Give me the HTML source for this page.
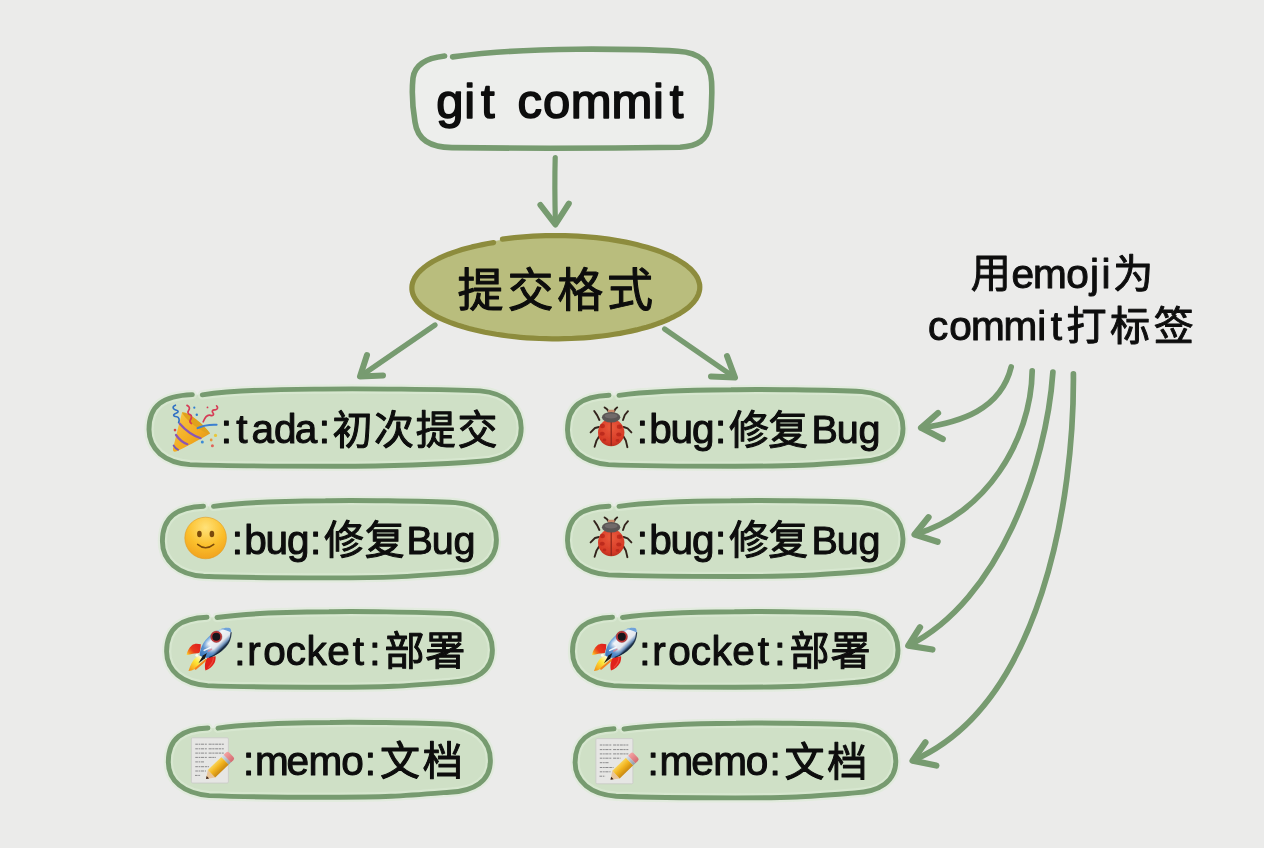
<!DOCTYPE html>
<html lang="zh-CN"><head><meta charset="utf-8"><title>git commit emoji</title>
<style>html,body{margin:0;padding:0;background:#ebebea;overflow:hidden}svg{display:block}text{white-space:pre}</style></head>
<body>
<svg width="1264" height="848" viewBox="0 0 1264 848" font-family="'Liberation Sans','Noto Sans CJK SC',sans-serif" fill="#0a0a0a">
<rect width="1264" height="848" fill="#ebebea"/>
<defs><filter id="soft" x="0" y="0" width="1264" height="848" filterUnits="userSpaceOnUse"><feGaussianBlur stdDeviation="0.38"/></filter></defs>
<g filter="url(#soft)">
<path d="M452.6,56.9 C490,52 540,49.4 577,49.2 C615,49 650,49.6 678,51.2 C700,52.6 710.5,62 711.6,82 C712.2,96 711.6,110 709.8,124 C707.6,140 698,146.4 680,147.2 C600,148.4 520,148.4 452,147.6 C430,147 417.5,140 415,122 C412.6,108 411.6,92 413,78 C414.8,64 428,57.8 444.6,56.0" fill="#edeeec" stroke="#779b70" stroke-width="5.6" stroke-linecap="round" stroke-linejoin="round"/>
<text x="436.20 464.32 481.05 499.31 517.58 542.92 570.73 611.62 652.92 669.70" y="117.6" font-size="49" stroke="#0a0a0a" stroke-width="1.6" stroke-linejoin="round">git commit</text>
<path d="M555.2,157.5 C554.6,180 554.8,200 555.4,223" fill="none" stroke="#779b70" stroke-width="5.2" stroke-linecap="round" stroke-linejoin="round"/>
<path d="M540.4,205.0 L555.4,224.5 L568.8,203.6" fill="none" stroke="#779b70" stroke-width="6.0" stroke-linecap="round" stroke-linejoin="round"/>
<ellipse cx="555.5" cy="287.2" rx="143.8" ry="51.1" fill="#b9bd7d"/>
<path d="M502.4,239.2 L508.4,238.4 L514.5,237.7 L520.6,237.1 L526.9,236.6 L533.1,236.2 L539.5,235.9 L545.8,235.7 L552.2,235.6 L558.6,235.6 L565.0,235.7 L571.4,235.9 L577.7,236.2 L584.0,236.6 L590.2,237.1 L596.4,237.7 L602.5,238.4 L608.5,239.2 L614.3,240.1 L620.1,241.1 L625.8,242.1 L631.3,243.3 L636.6,244.5 L641.8,245.9 L646.9,247.3 L651.7,248.8 L656.4,250.3 L660.9,251.9 L665.1,253.6 L669.2,255.4 L673.0,257.2 L676.6,259.1 L679.9,261.1 L683.1,263.1 L685.9,265.1 L688.5,267.2 L690.9,269.3 L692.9,271.5 L694.8,273.7 L696.3,275.9 L697.6,278.1 L698.5,280.4 L699.2,282.7 L699.7,284.9 L699.8,287.2 L699.7,289.5 L699.2,291.8 L698.5,294.1 L697.5,296.3 L696.3,298.6 L694.7,300.8 L692.9,303.0 L690.8,305.1 L688.5,307.3 L685.8,309.3 L683.0,311.4 L679.9,313.4 L676.5,315.3 L672.9,317.2 L669.1,319.0 L665.0,320.8 L660.7,322.5 L656.3,324.1 L651.6,325.7 L646.7,327.2 L641.7,328.6 L636.5,329.9 L631.1,331.1 L625.6,332.3 L620.0,333.4 L614.2,334.3 L608.3,335.2 L602.3,336.0 L596.2,336.7 L590.0,337.3 L583.8,337.8 L577.5,338.2 L571.2,338.5 L564.8,338.7 L558.4,338.8 L552.0,338.8 L545.7,338.7 L539.3,338.5 L533.0,338.2 L526.7,337.8 L520.5,337.3 L514.3,336.7 L508.2,336.0 L502.2,335.2 L496.3,334.3 L490.6,333.3 L484.9,332.2 L479.4,331.0 L474.1,329.8 L468.9,328.5 L463.9,327.1 L459.0,325.6 L454.4,324.0 L449.9,322.4 L445.6,320.7 L441.6,318.9 L437.8,317.1 L434.2,315.2 L430.9,313.2 L427.8,311.2 L425.0,309.2 L422.4,307.1 L420.1,304.9 L418.1,302.8 L416.4,300.6 L414.9,298.4 L413.7,296.1 L412.8,293.9 L412.2,291.6 L411.9,289.3 L411.9,287.0 L412.1,284.8 L412.7,282.5 L413.5,280.3 L414.6,278.0 L416.0,275.8 L417.7,273.6 L419.6,271.5 L421.8,269.4 L424.3,267.3 L427.0,265.2 L430.0,263.3 L433.3,261.3 L436.7,259.5 L440.4,257.6 L444.3,255.9 L448.5,254.2 L452.8,252.6 L457.3,251.1 L462.1,249.6 L466.9,248.2 L472.0,246.9 L477.2,245.7 L482.5,244.6 L488.0,243.5 L493.6,242.6" fill="none" stroke="#8d8c3c" stroke-width="5.2" stroke-linecap="round" stroke-linejoin="round"/>
<text x="457.60 507.43 557.27 607.10" y="305.8" font-size="46" stroke="#0a0a0a" stroke-width="1.0" stroke-linejoin="round">提交格式</text>
<path d="M435,325 L361.5,375.5" fill="none" stroke="#779b70" stroke-width="5.2" stroke-linecap="round" stroke-linejoin="round"/>
<path d="M367,355 L360,376.5 L383,375.5" fill="none" stroke="#779b70" stroke-width="6.0" stroke-linecap="round" stroke-linejoin="round"/>
<path d="M664.6,329 L733.5,376.6" fill="none" stroke="#779b70" stroke-width="5.2" stroke-linecap="round" stroke-linejoin="round"/>
<path d="M727,356 L735,377.6 L711,376.5" fill="none" stroke="#779b70" stroke-width="6.0" stroke-linecap="round" stroke-linejoin="round"/>
<path d="M202.3,394.8 C224.3,391.6 262.3,389.4 314.3,389.1 C355.1,388.4 450.2,389.2 480.2,390.9 C506.5,393.1 521.2,407.8 521.2,428.1 C521.2,449.4 504.9,460.2 480.2,461.2 C430.2,465.2 395.1,466.2 335.1,466.2 C275.1,466.2 230.0,466.2 190.0,464.6 C164.6,462.6 149.0,449.4 149.0,429.6 C149.0,405.5 163.0,395.6 192.3,394.6 Z" fill="#cfe0c6"/>
<path d="M202.3,394.8 C224.3,391.6 262.3,389.4 314.3,389.1 C355.1,388.4 450.2,389.2 480.2,390.9 C506.5,393.1 521.2,407.8 521.2,428.1 C521.2,449.4 504.9,460.2 480.2,461.2 C430.2,465.2 395.1,466.2 335.1,466.2 C275.1,466.2 230.0,466.2 190.0,464.6 C164.6,462.6 149.0,449.4 149.0,429.6 C149.0,405.5 163.0,395.6 192.3,394.6" fill="none" stroke="#dcebd6" stroke-opacity="0.6" stroke-width="9.4" stroke-linecap="round" stroke-linejoin="round"/>
<path d="M202.3,394.8 C224.3,391.6 262.3,389.4 314.3,389.1 C355.1,388.4 450.2,389.2 480.2,390.9 C506.5,393.1 521.2,407.8 521.2,428.1 C521.2,449.4 504.9,460.2 480.2,461.2 C430.2,465.2 395.1,466.2 335.1,466.2 C275.1,466.2 230.0,466.2 190.0,464.6 C164.6,462.6 149.0,449.4 149.0,429.6 C149.0,405.5 163.0,395.6 192.3,394.6" fill="none" stroke="#779b70" stroke-width="4.9" stroke-linecap="round" stroke-linejoin="round"/>
<path d="M213.5,506.4 C235.5,503.2 273.5,501.1 325.5,500.8 C349.4,500.1 425.4,500.9 455.4,502.6 C481.6,504.8 496.4,519.5 496.4,539.8 C496.4,561.2 480.0,571.9 455.4,572.9 C405.4,576.9 389.4,577.9 329.4,577.9 C269.4,577.9 243.4,577.9 203.4,576.3 C178.0,574.3 162.4,561.2 162.4,541.3 C162.4,517.2 176.4,507.2 203.5,506.2 Z" fill="#cfe0c6"/>
<path d="M213.5,506.4 C235.5,503.2 273.5,501.1 325.5,500.8 C349.4,500.1 425.4,500.9 455.4,502.6 C481.6,504.8 496.4,519.5 496.4,539.8 C496.4,561.2 480.0,571.9 455.4,572.9 C405.4,576.9 389.4,577.9 329.4,577.9 C269.4,577.9 243.4,577.9 203.4,576.3 C178.0,574.3 162.4,561.2 162.4,541.3 C162.4,517.2 176.4,507.2 203.5,506.2" fill="none" stroke="#dcebd6" stroke-opacity="0.6" stroke-width="9.4" stroke-linecap="round" stroke-linejoin="round"/>
<path d="M213.5,506.4 C235.5,503.2 273.5,501.1 325.5,500.8 C349.4,500.1 425.4,500.9 455.4,502.6 C481.6,504.8 496.4,519.5 496.4,539.8 C496.4,561.2 480.0,571.9 455.4,572.9 C405.4,576.9 389.4,577.9 329.4,577.9 C269.4,577.9 243.4,577.9 203.4,576.3 C178.0,574.3 162.4,561.2 162.4,541.3 C162.4,517.2 176.4,507.2 203.5,506.2" fill="none" stroke="#779b70" stroke-width="4.9" stroke-linecap="round" stroke-linejoin="round"/>
<path d="M217.0,617.5 C239.0,614.2 277.0,612.1 329.0,611.8 C349.5,611.1 421.4,612.0 451.4,613.5 C477.6,615.8 492.4,630.1 492.4,650.0 C492.4,670.9 476.0,681.2 451.4,682.2 C401.4,686.2 389.5,687.2 329.5,687.2 C269.5,687.2 247.6,687.2 207.6,685.6 C182.2,683.6 166.6,670.9 166.6,651.5 C166.6,627.8 180.6,618.2 207.0,617.2 Z" fill="#cfe0c6"/>
<path d="M217.0,617.5 C239.0,614.2 277.0,612.1 329.0,611.8 C349.5,611.1 421.4,612.0 451.4,613.5 C477.6,615.8 492.4,630.1 492.4,650.0 C492.4,670.9 476.0,681.2 451.4,682.2 C401.4,686.2 389.5,687.2 329.5,687.2 C269.5,687.2 247.6,687.2 207.6,685.6 C182.2,683.6 166.6,670.9 166.6,651.5 C166.6,627.8 180.6,618.2 207.0,617.2" fill="none" stroke="#dcebd6" stroke-opacity="0.6" stroke-width="9.4" stroke-linecap="round" stroke-linejoin="round"/>
<path d="M217.0,617.5 C239.0,614.2 277.0,612.1 329.0,611.8 C349.5,611.1 421.4,612.0 451.4,613.5 C477.6,615.8 492.4,630.1 492.4,650.0 C492.4,670.9 476.0,681.2 451.4,682.2 C401.4,686.2 389.5,687.2 329.5,687.2 C269.5,687.2 247.6,687.2 207.6,685.6 C182.2,683.6 166.6,670.9 166.6,651.5 C166.6,627.8 180.6,618.2 207.0,617.2" fill="none" stroke="#779b70" stroke-width="4.9" stroke-linecap="round" stroke-linejoin="round"/>
<path d="M218.0,728.2 C240.0,725.0 278.0,722.9 330.0,722.5 C349.4,721.9 419.4,722.7 449.4,724.2 C475.6,726.5 490.4,740.6 490.4,760.4 C490.4,781.0 474.0,791.2 449.4,792.2 C399.4,796.2 389.4,797.2 329.4,797.2 C269.4,797.2 249.3,797.2 209.3,795.6 C183.9,793.6 168.3,781.0 168.3,761.9 C168.3,738.4 182.3,729.0 208.0,728.0 Z" fill="#cfe0c6"/>
<path d="M218.0,728.2 C240.0,725.0 278.0,722.9 330.0,722.5 C349.4,721.9 419.4,722.7 449.4,724.2 C475.6,726.5 490.4,740.6 490.4,760.4 C490.4,781.0 474.0,791.2 449.4,792.2 C399.4,796.2 389.4,797.2 329.4,797.2 C269.4,797.2 249.3,797.2 209.3,795.6 C183.9,793.6 168.3,781.0 168.3,761.9 C168.3,738.4 182.3,729.0 208.0,728.0" fill="none" stroke="#dcebd6" stroke-opacity="0.6" stroke-width="9.4" stroke-linecap="round" stroke-linejoin="round"/>
<path d="M218.0,728.2 C240.0,725.0 278.0,722.9 330.0,722.5 C349.4,721.9 419.4,722.7 449.4,724.2 C475.6,726.5 490.4,740.6 490.4,760.4 C490.4,781.0 474.0,791.2 449.4,792.2 C399.4,796.2 389.4,797.2 329.4,797.2 C269.4,797.2 249.3,797.2 209.3,795.6 C183.9,793.6 168.3,781.0 168.3,761.9 C168.3,738.4 182.3,729.0 208.0,728.0" fill="none" stroke="#779b70" stroke-width="4.9" stroke-linecap="round" stroke-linejoin="round"/>
<path d="M619.0,395.4 C641.0,392.2 679.0,390.1 731.0,389.8 C755.2,389.1 832.0,389.9 862.0,391.6 C888.3,393.8 903.0,408.4 903.0,428.5 C903.0,449.6 886.6,460.2 862.0,461.2 C812.0,465.2 795.2,466.2 735.2,466.2 C675.2,466.2 648.5,466.2 608.5,464.6 C583.0,462.6 567.5,449.6 567.5,430.0 C567.5,406.0 581.4,396.2 609.0,395.2 Z" fill="#cfe0c6"/>
<path d="M619.0,395.4 C641.0,392.2 679.0,390.1 731.0,389.8 C755.2,389.1 832.0,389.9 862.0,391.6 C888.3,393.8 903.0,408.4 903.0,428.5 C903.0,449.6 886.6,460.2 862.0,461.2 C812.0,465.2 795.2,466.2 735.2,466.2 C675.2,466.2 648.5,466.2 608.5,464.6 C583.0,462.6 567.5,449.6 567.5,430.0 C567.5,406.0 581.4,396.2 609.0,395.2" fill="none" stroke="#dcebd6" stroke-opacity="0.6" stroke-width="9.4" stroke-linecap="round" stroke-linejoin="round"/>
<path d="M619.0,395.4 C641.0,392.2 679.0,390.1 731.0,389.8 C755.2,389.1 832.0,389.9 862.0,391.6 C888.3,393.8 903.0,408.4 903.0,428.5 C903.0,449.6 886.6,460.2 862.0,461.2 C812.0,465.2 795.2,466.2 735.2,466.2 C675.2,466.2 648.5,466.2 608.5,464.6 C583.0,462.6 567.5,449.6 567.5,430.0 C567.5,406.0 581.4,396.2 609.0,395.2" fill="none" stroke="#779b70" stroke-width="4.9" stroke-linecap="round" stroke-linejoin="round"/>
<path d="M619.0,506.4 C641.0,503.2 679.0,501.1 731.0,500.8 C755.2,500.1 832.0,500.9 862.0,502.6 C888.3,504.8 903.0,519.2 903.0,539.1 C903.0,560.1 886.6,570.5 862.0,571.5 C812.0,575.5 795.2,576.5 735.2,576.5 C675.2,576.5 648.5,576.5 608.5,574.9 C583.0,572.9 567.5,560.1 567.5,540.6 C567.5,516.9 581.4,507.2 609.0,506.2 Z" fill="#cfe0c6"/>
<path d="M619.0,506.4 C641.0,503.2 679.0,501.1 731.0,500.8 C755.2,500.1 832.0,500.9 862.0,502.6 C888.3,504.8 903.0,519.2 903.0,539.1 C903.0,560.1 886.6,570.5 862.0,571.5 C812.0,575.5 795.2,576.5 735.2,576.5 C675.2,576.5 648.5,576.5 608.5,574.9 C583.0,572.9 567.5,560.1 567.5,540.6 C567.5,516.9 581.4,507.2 609.0,506.2" fill="none" stroke="#dcebd6" stroke-opacity="0.6" stroke-width="9.4" stroke-linecap="round" stroke-linejoin="round"/>
<path d="M619.0,506.4 C641.0,503.2 679.0,501.1 731.0,500.8 C755.2,500.1 832.0,500.9 862.0,502.6 C888.3,504.8 903.0,519.2 903.0,539.1 C903.0,560.1 886.6,570.5 862.0,571.5 C812.0,575.5 795.2,576.5 735.2,576.5 C675.2,576.5 648.5,576.5 608.5,574.9 C583.0,572.9 567.5,560.1 567.5,540.6 C567.5,516.9 581.4,507.2 609.0,506.2" fill="none" stroke="#779b70" stroke-width="4.9" stroke-linecap="round" stroke-linejoin="round"/>
<path d="M622.5,617.5 C644.5,614.2 682.5,612.1 734.5,611.8 C755.2,611.1 827.0,612.0 857.0,613.5 C883.3,615.8 898.0,630.1 898.0,650.0 C898.0,670.9 881.6,681.2 857.0,682.2 C807.0,686.2 795.2,687.2 735.2,687.2 C675.2,687.2 653.5,687.2 613.5,685.6 C588.0,683.6 572.5,670.9 572.5,651.5 C572.5,627.8 586.4,618.2 612.5,617.2 Z" fill="#cfe0c6"/>
<path d="M622.5,617.5 C644.5,614.2 682.5,612.1 734.5,611.8 C755.2,611.1 827.0,612.0 857.0,613.5 C883.3,615.8 898.0,630.1 898.0,650.0 C898.0,670.9 881.6,681.2 857.0,682.2 C807.0,686.2 795.2,687.2 735.2,687.2 C675.2,687.2 653.5,687.2 613.5,685.6 C588.0,683.6 572.5,670.9 572.5,651.5 C572.5,627.8 586.4,618.2 612.5,617.2" fill="none" stroke="#dcebd6" stroke-opacity="0.6" stroke-width="9.4" stroke-linecap="round" stroke-linejoin="round"/>
<path d="M622.5,617.5 C644.5,614.2 682.5,612.1 734.5,611.8 C755.2,611.1 827.0,612.0 857.0,613.5 C883.3,615.8 898.0,630.1 898.0,650.0 C898.0,670.9 881.6,681.2 857.0,682.2 C807.0,686.2 795.2,687.2 735.2,687.2 C675.2,687.2 653.5,687.2 613.5,685.6 C588.0,683.6 572.5,670.9 572.5,651.5 C572.5,627.8 586.4,618.2 612.5,617.2" fill="none" stroke="#779b70" stroke-width="4.9" stroke-linecap="round" stroke-linejoin="round"/>
<path d="M624.0,729.0 C646.0,725.8 684.0,723.6 736.0,723.2 C755.4,722.6 824.8,723.5 854.8,725.0 C881.0,727.2 895.8,741.4 895.8,761.1 C895.8,781.7 879.4,791.9 854.8,792.9 C804.8,796.9 795.4,797.9 735.4,797.9 C675.4,797.9 656.1,797.9 616.1,796.3 C590.6,794.3 575.1,781.7 575.1,762.6 C575.1,739.1 589.0,729.8 614.0,728.8 Z" fill="#cfe0c6"/>
<path d="M624.0,729.0 C646.0,725.8 684.0,723.6 736.0,723.2 C755.4,722.6 824.8,723.5 854.8,725.0 C881.0,727.2 895.8,741.4 895.8,761.1 C895.8,781.7 879.4,791.9 854.8,792.9 C804.8,796.9 795.4,797.9 735.4,797.9 C675.4,797.9 656.1,797.9 616.1,796.3 C590.6,794.3 575.1,781.7 575.1,762.6 C575.1,739.1 589.0,729.8 614.0,728.8" fill="none" stroke="#dcebd6" stroke-opacity="0.6" stroke-width="9.4" stroke-linecap="round" stroke-linejoin="round"/>
<path d="M624.0,729.0 C646.0,725.8 684.0,723.6 736.0,723.2 C755.4,722.6 824.8,723.5 854.8,725.0 C881.0,727.2 895.8,741.4 895.8,761.1 C895.8,781.7 879.4,791.9 854.8,792.9 C804.8,796.9 795.4,797.9 735.4,797.9 C675.4,797.9 656.1,797.9 616.1,796.3 C590.6,794.3 575.1,781.7 575.1,762.6 C575.1,739.1 589.0,729.8 614.0,728.8" fill="none" stroke="#779b70" stroke-width="4.9" stroke-linecap="round" stroke-linejoin="round"/>
<g transform="translate(0,0)">
<defs><linearGradient id="tg" x1="0" y1="0" x2="1" y2="1"><stop offset="0" stop-color="#f7c948"/><stop offset="0.6" stop-color="#f2a91e"/><stop offset="1" stop-color="#d98a12"/></linearGradient></defs>
<path d="M173.0,448.5 C176,436 179,424 182.0,412.5 C190,414 203,424 210.0,433.5 C199,440 186,447 176.0,451.5 C173.5,452.2 172.6,450.5 173.0,448.5Z" fill="url(#tg)"/>
<path d="M182.0,412.5 C186,410.5 204,424 210.0,433.5 C205,434.5 186,421 182.0,412.5Z" fill="#e0a21c"/>
<path d="M179.6,423.5 C186,431 194,436 200.6,438.2" fill="none" stroke="#8a56b5" stroke-width="2.2" stroke-linecap="round"/>
<path d="M176.0,435.0 C179.5,440 184,443 187.4,444.2" fill="none" stroke="#8a56b5" stroke-width="2.2" stroke-linecap="round"/>
<path d="M173.6,445.5 C175,448 176.5,449.2 178.2,449.8" fill="none" stroke="#7a58b0" stroke-width="1.8" stroke-linecap="round"/>
<path d="M175.4,405.2 C172,406.5 172.5,409.5 176.5,410.2 C178.5,410.6 179,412 176,413.2 C172.5,414.5 173,416.5 176.8,416.8 C179,417 179.8,420 178.6,422.5" fill="none" stroke="#2f6fc4" stroke-width="1.6" stroke-linecap="round"/>
<path d="M187.0,405.4 C189.5,406.5 190.2,408.5 188.6,410.5 C187.2,412.3 188,414 190,414.6 C192.5,415.4 191.5,418.5 190.2,420.2 C189.6,421.5 190.4,423 191.4,423.6" fill="none" stroke="#d63a55" stroke-width="1.7" stroke-linecap="round"/>
<path d="M216.6,405.8 C218.5,407.5 217.5,410 214.8,409.8 C212.5,409.6 211.5,411.5 213,413 C214.5,414.5 212.5,416.2 210.6,415.4 C208.5,414.6 205.5,416 203.2,421.8" fill="none" stroke="#d63a55" stroke-width="1.7" stroke-linecap="round"/>
<path d="M197.6,428.2 C203,425.5 210,424.5 216.6,424.8" fill="none" stroke="#3b7fd0" stroke-width="2.0" stroke-linecap="round"/>
<circle cx="175" cy="430.1" r="1.3" fill="#d9443f"/>
<circle cx="194.3" cy="407.7" r="1.1" fill="#2f7fd1"/>
<circle cx="196.8" cy="414.7" r="1.2" fill="#2f7fd1"/>
<circle cx="202.3" cy="441.9" r="1.5" fill="#3b8ad6"/>
<circle cx="215.5" cy="435.4" r="1.6" fill="#e8c73a"/>
<circle cx="211.2" cy="440" r="1.4" fill="#e8963a"/>
<circle cx="212.4" cy="445.7" r="1.5" fill="#e0645a"/>
<circle cx="207.5" cy="407.4" r="0.9" fill="#d63a55"/>
</g>
<defs><radialGradient id="sg" cx="0.5" cy="0.25" r="0.85"><stop offset="0" stop-color="#ffe27a"/><stop offset="0.5" stop-color="#fbc02d"/><stop offset="1" stop-color="#ee9a1a"/></radialGradient></defs>
<circle cx="205.6" cy="538.0" r="20.8" fill="url(#sg)" stroke="#e39a1e" stroke-width="0.6"/>
<ellipse cx="199.4" cy="534.0" rx="2.3" ry="3.2" fill="#7a4a08"/>
<ellipse cx="211.9" cy="534.0" rx="2.3" ry="3.2" fill="#7a4a08"/>
<path d="M197.6,544.4 Q205.6,551.2 213.79999999999998,544.4" fill="none" stroke="#7a4a08" stroke-width="1.5" stroke-linecap="round"/>
<g transform="translate(0,0)">
<defs><radialGradient id="bga" cx="0.5" cy="0.3" r="0.8"><stop offset="0" stop-color="#ea5a3c"/><stop offset="0.7" stop-color="#d63a26"/><stop offset="1" stop-color="#a82a1c"/></radialGradient></defs>
<path d="M599.4,420 L597.2,415.4 L594.2,411.0" fill="none" stroke="#33241c" stroke-width="1.9" stroke-linecap="round" stroke-linejoin="round"/>
<path d="M623.0,420 L624.8,415.0 L628.0,411.2" fill="none" stroke="#33241c" stroke-width="1.9" stroke-linecap="round" stroke-linejoin="round"/>
<path d="M599,427 L595,428 L590.6,432.4" fill="none" stroke="#33241c" stroke-width="1.9" stroke-linecap="round" stroke-linejoin="round"/>
<path d="M623.6,427 L627.6,428.4 L631.4,432.4" fill="none" stroke="#33241c" stroke-width="1.9" stroke-linecap="round" stroke-linejoin="round"/>
<path d="M599.4,436 L596.6,440.4 L594.6,446.8" fill="none" stroke="#33241c" stroke-width="1.9" stroke-linecap="round" stroke-linejoin="round"/>
<path d="M623.2,436 L625.8,440.4 L627.4,447.2" fill="none" stroke="#33241c" stroke-width="1.9" stroke-linecap="round" stroke-linejoin="round"/>
<path d="M608.6,411.4 L606.8,409 L604.6,407.4" fill="none" stroke="#33241c" stroke-width="1.9" stroke-linecap="round" stroke-linejoin="round"/>
<path d="M614.0,411.4 L615.4,409 L617.2,407.4" fill="none" stroke="#33241c" stroke-width="1.9" stroke-linecap="round" stroke-linejoin="round"/>
<rect x="607.8" y="409.8" width="6.8" height="3" rx="1.2" fill="#c98a6a"/>
<ellipse cx="611.2" cy="432.6" rx="13.2" ry="13.6" fill="url(#bga)"/>
<ellipse cx="602.4" cy="426.0" rx="2.6" ry="2.2" fill="#b8281c" opacity="0.85"/>
<ellipse cx="602.2" cy="433.8" rx="2.6" ry="2.0" fill="#b8281c" opacity="0.85"/>
<ellipse cx="619.6" cy="426.8" rx="2.8" ry="2.2" fill="#b8281c" opacity="0.85"/>
<ellipse cx="618.8" cy="434.6" rx="2.6" ry="2.0" fill="#b8281c" opacity="0.85"/>
<ellipse cx="604.5" cy="440" rx="1.8" ry="1.4" fill="#b8281c" opacity="0.85"/>
<ellipse cx="617.5" cy="440.5" rx="1.8" ry="1.4" fill="#b8281c" opacity="0.85"/>
<path d="M611.2,420.8 L611.2,445.8" stroke="#8a2418" stroke-width="1.2"/>
<ellipse cx="611.1" cy="417.2" rx="9.2" ry="5.2" fill="#5a5654"/>
<ellipse cx="611.1" cy="416.0" rx="6.5" ry="2.6" fill="#787472" opacity="0.7"/>
</g>
<g transform="translate(0,110)">
<defs><radialGradient id="bgb" cx="0.5" cy="0.3" r="0.8"><stop offset="0" stop-color="#ea5a3c"/><stop offset="0.7" stop-color="#d63a26"/><stop offset="1" stop-color="#a82a1c"/></radialGradient></defs>
<path d="M599.4,420 L597.2,415.4 L594.2,411.0" fill="none" stroke="#33241c" stroke-width="1.9" stroke-linecap="round" stroke-linejoin="round"/>
<path d="M623.0,420 L624.8,415.0 L628.0,411.2" fill="none" stroke="#33241c" stroke-width="1.9" stroke-linecap="round" stroke-linejoin="round"/>
<path d="M599,427 L595,428 L590.6,432.4" fill="none" stroke="#33241c" stroke-width="1.9" stroke-linecap="round" stroke-linejoin="round"/>
<path d="M623.6,427 L627.6,428.4 L631.4,432.4" fill="none" stroke="#33241c" stroke-width="1.9" stroke-linecap="round" stroke-linejoin="round"/>
<path d="M599.4,436 L596.6,440.4 L594.6,446.8" fill="none" stroke="#33241c" stroke-width="1.9" stroke-linecap="round" stroke-linejoin="round"/>
<path d="M623.2,436 L625.8,440.4 L627.4,447.2" fill="none" stroke="#33241c" stroke-width="1.9" stroke-linecap="round" stroke-linejoin="round"/>
<path d="M608.6,411.4 L606.8,409 L604.6,407.4" fill="none" stroke="#33241c" stroke-width="1.9" stroke-linecap="round" stroke-linejoin="round"/>
<path d="M614.0,411.4 L615.4,409 L617.2,407.4" fill="none" stroke="#33241c" stroke-width="1.9" stroke-linecap="round" stroke-linejoin="round"/>
<rect x="607.8" y="409.8" width="6.8" height="3" rx="1.2" fill="#c98a6a"/>
<ellipse cx="611.2" cy="432.6" rx="13.2" ry="13.6" fill="url(#bgb)"/>
<ellipse cx="602.4" cy="426.0" rx="2.6" ry="2.2" fill="#b8281c" opacity="0.85"/>
<ellipse cx="602.2" cy="433.8" rx="2.6" ry="2.0" fill="#b8281c" opacity="0.85"/>
<ellipse cx="619.6" cy="426.8" rx="2.8" ry="2.2" fill="#b8281c" opacity="0.85"/>
<ellipse cx="618.8" cy="434.6" rx="2.6" ry="2.0" fill="#b8281c" opacity="0.85"/>
<ellipse cx="604.5" cy="440" rx="1.8" ry="1.4" fill="#b8281c" opacity="0.85"/>
<ellipse cx="617.5" cy="440.5" rx="1.8" ry="1.4" fill="#b8281c" opacity="0.85"/>
<path d="M611.2,420.8 L611.2,445.8" stroke="#8a2418" stroke-width="1.2"/>
<ellipse cx="611.1" cy="417.2" rx="9.2" ry="5.2" fill="#5a5654"/>
<ellipse cx="611.1" cy="416.0" rx="6.5" ry="2.6" fill="#787472" opacity="0.7"/>
</g>
<g transform="translate(0,0)">
<defs><linearGradient id="rfa" gradientUnits="userSpaceOnUse" x1="200" y1="644.5" x2="187" y2="655"><stop offset="0" stop-color="#de1f1a"/><stop offset="0.55" stop-color="#e83a1a"/><stop offset="0.82" stop-color="#f68c1e"/><stop offset="1" stop-color="#fbe23a"/></linearGradient><linearGradient id="rba" gradientUnits="userSpaceOnUse" x1="208.4" y1="635.4" x2="221.6" y2="649.4"><stop offset="0" stop-color="#3a7cc4"/><stop offset="0.13" stop-color="#86b4e2"/><stop offset="0.3" stop-color="#f1f4f8"/><stop offset="0.7" stop-color="#e4e8ee"/><stop offset="0.87" stop-color="#7396c0"/><stop offset="1" stop-color="#152840"/></linearGradient><linearGradient id="rta" gradientUnits="userSpaceOnUse" x1="200.5" y1="656.5" x2="215" y2="642.5"><stop offset="0" stop-color="#2a6cba" stop-opacity="0.95"/><stop offset="0.42" stop-color="#3a7cc4" stop-opacity="0.8"/><stop offset="0.72" stop-color="#3a7cc4" stop-opacity="0"/><stop offset="1" stop-color="#3a7cc4" stop-opacity="0"/></linearGradient><linearGradient id="fla" gradientUnits="userSpaceOnUse" x1="201" y1="657" x2="189" y2="671"><stop offset="0" stop-color="#fffbd0"/><stop offset="0.35" stop-color="#fdea3a"/><stop offset="0.75" stop-color="#f9b321"/><stop offset="1" stop-color="#f08a1a"/></linearGradient></defs>
<path d="M200.8,644.3 C197,643.2 194,643.6 192.0,645.2 C189,647.8 187.2,651.4 186.5,655.0 C189.5,654.6 192.5,653.4 194.6,653.4 C196.6,653.4 198.2,653.2 199.6,652.8 C200.4,650 200.8,647 200.8,644.3Z" fill="url(#rfa)"/>
<path d="M200.0,655.8 C198.4,656 196.8,656.8 195.4,658.0 C192.6,660.4 190.6,664.6 188.5,671.0 C190.6,670.8 192.6,670.2 194.2,669.2 C196.4,667.6 198.2,665.6 199.8,663.4 C201,661.8 202.2,660.2 203.2,658.6Z" fill="url(#fla)"/>
<circle cx="196.9" cy="655.2" r="1.5" fill="#fffef2" opacity="0.9"/>
<path d="M205.8,660.0 L195.6,668.8" stroke="#f5861c" stroke-width="2.0" stroke-linecap="round"/>
<path d="M207.8,657.0 C210.4,657.2 213.2,656.9 215.6,656.3 C215.8,658.6 215.4,660.8 214.6,662.8 C212.6,666.4 209.4,669.0 205.5,670.6 C204.8,668.2 204.8,665.8 205.1,663.4 C205.6,661.0 206.6,658.8 207.8,657.0Z" fill="#e1241b"/>
<path d="M213.4,657.6 C213.4,661 211.6,664.6 208.4,667.6" fill="none" stroke="#f2584a" stroke-width="1.1" opacity="0.7"/>
<path d="M230.2,628.2 C231.4,629.8 231.6,631.4 231.1,633.0 C231.0,635.0 230.6,637.0 229.9,638.8 C229.0,641.4 227.8,643.8 226.2,645.8 C224.6,647.8 222.8,649.6 220.8,651.2 C218.9,652.7 216.8,654.1 214.6,655.3 C213.0,656.2 211.4,656.9 209.7,657.3 C208.6,657.7 207.5,657.8 206.4,657.7 C204.0,657.4 201.6,656.8 199.7,655.6 C199.6,653.5 199.9,651.4 200.6,649.4 C201.3,647.1 202.3,644.9 203.5,642.9 C204.8,641.0 206.3,639.2 208.0,637.5 C209.8,635.7 211.7,634.0 213.8,632.6 C215.9,631.3 218.1,630.2 220.4,629.3 C222.3,628.6 224.2,628.1 226.2,628.0 C227.6,627.7 229.0,627.7 230.2,628.2Z" fill="url(#rba)"/>
<path d="M230.2,628.2 C231.4,629.8 231.6,631.4 231.1,633.0 C231.0,635.0 230.6,637.0 229.9,638.8 C229.0,641.4 227.8,643.8 226.2,645.8 C224.6,647.8 222.8,649.6 220.8,651.2 C218.9,652.7 216.8,654.1 214.6,655.3 C213.0,656.2 211.4,656.9 209.7,657.3 C208.6,657.7 207.5,657.8 206.4,657.7 C204.0,657.4 201.6,656.8 199.7,655.6 C199.6,653.5 199.9,651.4 200.6,649.4 C201.3,647.1 202.3,644.9 203.5,642.9 C204.8,641.0 206.3,639.2 208.0,637.5 C209.8,635.7 211.7,634.0 213.8,632.6 C215.9,631.3 218.1,630.2 220.4,629.3 C222.3,628.6 224.2,628.1 226.2,628.0 C227.6,627.7 229.0,627.7 230.2,628.2Z" fill="url(#rta)"/>
<path d="M231.1,632.6 C230.8,638.0 228.6,643.4 225.4,646.8 C221.4,651.2 215.6,655.0 209.6,657.2" fill="none" stroke="#13233a" stroke-width="1.2" stroke-linecap="round" opacity="0.85"/>
<path d="M230.2,628.2 C227.2,627.4 223.8,628.0 220.4,629.3 C224,629.6 227.6,630.6 231.2,632.6 C231.4,631 231.2,629.4 230.2,628.2Z" fill="#4f8fd2" opacity="0.8"/>
<path d="M204.2,650.4 L210.6,647.4" stroke="#ffffff" stroke-width="1.5" stroke-linecap="round" opacity="0.9"/>
<path d="M208.2,651.2 L211.4,649.2" stroke="#e8788a" stroke-width="1.3" stroke-linecap="round" opacity="0.8"/>
<path d="M206.9,653.0 L204.8,658.4 L198.4,663.2 L203.0,655.6Z" fill="#141414"/>
<circle cx="216.3" cy="636.8" r="5.7" fill="#c23838"/>
<circle cx="216.3" cy="636.8" r="5.7" fill="none" stroke="#7a1f24" stroke-width="0.6" opacity="0.6"/>
<circle cx="216.3" cy="636.8" r="4.0" fill="#15121a"/>
</g>
<g transform="translate(405.5,0)">
<defs><linearGradient id="rfb" gradientUnits="userSpaceOnUse" x1="200" y1="644.5" x2="187" y2="655"><stop offset="0" stop-color="#de1f1a"/><stop offset="0.55" stop-color="#e83a1a"/><stop offset="0.82" stop-color="#f68c1e"/><stop offset="1" stop-color="#fbe23a"/></linearGradient><linearGradient id="rbb" gradientUnits="userSpaceOnUse" x1="208.4" y1="635.4" x2="221.6" y2="649.4"><stop offset="0" stop-color="#3a7cc4"/><stop offset="0.13" stop-color="#86b4e2"/><stop offset="0.3" stop-color="#f1f4f8"/><stop offset="0.7" stop-color="#e4e8ee"/><stop offset="0.87" stop-color="#7396c0"/><stop offset="1" stop-color="#152840"/></linearGradient><linearGradient id="rtb" gradientUnits="userSpaceOnUse" x1="200.5" y1="656.5" x2="215" y2="642.5"><stop offset="0" stop-color="#2a6cba" stop-opacity="0.95"/><stop offset="0.42" stop-color="#3a7cc4" stop-opacity="0.8"/><stop offset="0.72" stop-color="#3a7cc4" stop-opacity="0"/><stop offset="1" stop-color="#3a7cc4" stop-opacity="0"/></linearGradient><linearGradient id="flb" gradientUnits="userSpaceOnUse" x1="201" y1="657" x2="189" y2="671"><stop offset="0" stop-color="#fffbd0"/><stop offset="0.35" stop-color="#fdea3a"/><stop offset="0.75" stop-color="#f9b321"/><stop offset="1" stop-color="#f08a1a"/></linearGradient></defs>
<path d="M200.8,644.3 C197,643.2 194,643.6 192.0,645.2 C189,647.8 187.2,651.4 186.5,655.0 C189.5,654.6 192.5,653.4 194.6,653.4 C196.6,653.4 198.2,653.2 199.6,652.8 C200.4,650 200.8,647 200.8,644.3Z" fill="url(#rfb)"/>
<path d="M200.0,655.8 C198.4,656 196.8,656.8 195.4,658.0 C192.6,660.4 190.6,664.6 188.5,671.0 C190.6,670.8 192.6,670.2 194.2,669.2 C196.4,667.6 198.2,665.6 199.8,663.4 C201,661.8 202.2,660.2 203.2,658.6Z" fill="url(#flb)"/>
<circle cx="196.9" cy="655.2" r="1.5" fill="#fffef2" opacity="0.9"/>
<path d="M205.8,660.0 L195.6,668.8" stroke="#f5861c" stroke-width="2.0" stroke-linecap="round"/>
<path d="M207.8,657.0 C210.4,657.2 213.2,656.9 215.6,656.3 C215.8,658.6 215.4,660.8 214.6,662.8 C212.6,666.4 209.4,669.0 205.5,670.6 C204.8,668.2 204.8,665.8 205.1,663.4 C205.6,661.0 206.6,658.8 207.8,657.0Z" fill="#e1241b"/>
<path d="M213.4,657.6 C213.4,661 211.6,664.6 208.4,667.6" fill="none" stroke="#f2584a" stroke-width="1.1" opacity="0.7"/>
<path d="M230.2,628.2 C231.4,629.8 231.6,631.4 231.1,633.0 C231.0,635.0 230.6,637.0 229.9,638.8 C229.0,641.4 227.8,643.8 226.2,645.8 C224.6,647.8 222.8,649.6 220.8,651.2 C218.9,652.7 216.8,654.1 214.6,655.3 C213.0,656.2 211.4,656.9 209.7,657.3 C208.6,657.7 207.5,657.8 206.4,657.7 C204.0,657.4 201.6,656.8 199.7,655.6 C199.6,653.5 199.9,651.4 200.6,649.4 C201.3,647.1 202.3,644.9 203.5,642.9 C204.8,641.0 206.3,639.2 208.0,637.5 C209.8,635.7 211.7,634.0 213.8,632.6 C215.9,631.3 218.1,630.2 220.4,629.3 C222.3,628.6 224.2,628.1 226.2,628.0 C227.6,627.7 229.0,627.7 230.2,628.2Z" fill="url(#rbb)"/>
<path d="M230.2,628.2 C231.4,629.8 231.6,631.4 231.1,633.0 C231.0,635.0 230.6,637.0 229.9,638.8 C229.0,641.4 227.8,643.8 226.2,645.8 C224.6,647.8 222.8,649.6 220.8,651.2 C218.9,652.7 216.8,654.1 214.6,655.3 C213.0,656.2 211.4,656.9 209.7,657.3 C208.6,657.7 207.5,657.8 206.4,657.7 C204.0,657.4 201.6,656.8 199.7,655.6 C199.6,653.5 199.9,651.4 200.6,649.4 C201.3,647.1 202.3,644.9 203.5,642.9 C204.8,641.0 206.3,639.2 208.0,637.5 C209.8,635.7 211.7,634.0 213.8,632.6 C215.9,631.3 218.1,630.2 220.4,629.3 C222.3,628.6 224.2,628.1 226.2,628.0 C227.6,627.7 229.0,627.7 230.2,628.2Z" fill="url(#rtb)"/>
<path d="M231.1,632.6 C230.8,638.0 228.6,643.4 225.4,646.8 C221.4,651.2 215.6,655.0 209.6,657.2" fill="none" stroke="#13233a" stroke-width="1.2" stroke-linecap="round" opacity="0.85"/>
<path d="M230.2,628.2 C227.2,627.4 223.8,628.0 220.4,629.3 C224,629.6 227.6,630.6 231.2,632.6 C231.4,631 231.2,629.4 230.2,628.2Z" fill="#4f8fd2" opacity="0.8"/>
<path d="M204.2,650.4 L210.6,647.4" stroke="#ffffff" stroke-width="1.5" stroke-linecap="round" opacity="0.9"/>
<path d="M208.2,651.2 L211.4,649.2" stroke="#e8788a" stroke-width="1.3" stroke-linecap="round" opacity="0.8"/>
<path d="M206.9,653.0 L204.8,658.4 L198.4,663.2 L203.0,655.6Z" fill="#141414"/>
<circle cx="216.3" cy="636.8" r="5.7" fill="#c23838"/>
<circle cx="216.3" cy="636.8" r="5.7" fill="none" stroke="#7a1f24" stroke-width="0.6" opacity="0.6"/>
<circle cx="216.3" cy="636.8" r="4.0" fill="#15121a"/>
</g>
<g transform="translate(0,0)">
<rect x="191.4" y="737.8" width="37.0" height="45.2" rx="1.2" fill="#e6e6e4" stroke="#c9c9c6" stroke-width="0.8"/>
<path d="M195.3,744.2 L206.8,744.2" stroke="#8a8a8c" stroke-width="1.0" stroke-dasharray="2.6 0.7 1.6 0.6 3.2 0.8"/>
<path d="M208.6,744.2 L223.8,744.2" stroke="#8a8a8c" stroke-width="1.0" stroke-dasharray="3.1 0.6 2.2 0.7"/>
<path d="M195.3,748.8 L206.8,748.8" stroke="#8a8a8c" stroke-width="1.0" stroke-dasharray="2.6 0.7 1.6 0.6 3.2 0.8"/>
<path d="M208.6,748.8 L223.8,748.8" stroke="#8a8a8c" stroke-width="1.0" stroke-dasharray="3.1 0.6 2.2 0.7"/>
<path d="M195.3,753.1 L206.8,753.1" stroke="#8a8a8c" stroke-width="1.0" stroke-dasharray="2.6 0.7 1.6 0.6 3.2 0.8"/>
<path d="M208.6,753.1 L223.8,753.1" stroke="#8a8a8c" stroke-width="1.0" stroke-dasharray="3.1 0.6 2.2 0.7"/>
<path d="M195.3,757.4 L206.8,757.4" stroke="#8a8a8c" stroke-width="1.0" stroke-dasharray="2.6 0.7 1.6 0.6 3.2 0.8"/>
<path d="M208.6,757.4 L216,757.4" stroke="#8a8a8c" stroke-width="1.0" stroke-dasharray="3.1 0.6 2.2 0.7"/>
<path d="M195.3,761.9 L204.4,761.9" stroke="#8a8a8c" stroke-width="1.0" stroke-dasharray="2.6 0.7 1.6 0.6 3.2 0.8"/>
<path d="M195.3,766.7 L209,766.7" stroke="#8a8a8c" stroke-width="1.0" stroke-dasharray="2.6 0.7 1.6 0.6 3.2 0.8"/>
<path d="M195.3,771.0 L206,771.0" stroke="#8a8a8c" stroke-width="1.0" stroke-dasharray="2.6 0.7 1.6 0.6 3.2 0.8"/>
<path d="M195.0,775.4 L200.6,775.4" stroke="#8a8a8c" stroke-width="1.0" stroke-dasharray="2.6 0.7 1.6 0.6 3.2 0.8"/>
<defs><linearGradient id="pga" x1="0" y1="0" x2="0" y2="1"><stop offset="0" stop-color="#f8d45a"/><stop offset="0.45" stop-color="#f2b41f"/><stop offset="1" stop-color="#c98812"/></linearGradient><linearGradient id="pea" x1="0" y1="0" x2="0" y2="1"><stop offset="0" stop-color="#f4a3a3"/><stop offset="1" stop-color="#d46a70"/></linearGradient><linearGradient id="pma" x1="0" y1="0" x2="0" y2="1"><stop offset="0" stop-color="#d8e2ea"/><stop offset="1" stop-color="#8d9aa6"/></linearGradient></defs>
<g transform="translate(206.0,779.0) rotate(-43.73)">
<path d="M0,0 L7.6,-5.3 L7.6,5.3Z" fill="#e9c59a"/>
<path d="M0,0 L2.6,-1.80 L2.6,1.80Z" fill="#3a241a"/>
<rect x="7.6" y="-5.3" width="18.81" height="10.6" fill="url(#pga)"/>
<rect x="26.41" y="-5.3" width="3.0" height="10.6" fill="url(#pma)"/>
<path d="M29.41,-5.3 L32.81,-5.3 Q35.01,-5.3 35.01,-3.0999999999999996 L35.01,3.0999999999999996 Q35.01,5.3 32.81,5.3 L29.41,5.3Z" fill="url(#pea)"/>
</g>
</g>
<g transform="translate(404.5,0.8)">
<rect x="191.4" y="737.8" width="37.0" height="45.2" rx="1.2" fill="#e6e6e4" stroke="#c9c9c6" stroke-width="0.8"/>
<path d="M195.3,744.2 L206.8,744.2" stroke="#8a8a8c" stroke-width="1.0" stroke-dasharray="2.6 0.7 1.6 0.6 3.2 0.8"/>
<path d="M208.6,744.2 L223.8,744.2" stroke="#8a8a8c" stroke-width="1.0" stroke-dasharray="3.1 0.6 2.2 0.7"/>
<path d="M195.3,748.8 L206.8,748.8" stroke="#8a8a8c" stroke-width="1.0" stroke-dasharray="2.6 0.7 1.6 0.6 3.2 0.8"/>
<path d="M208.6,748.8 L223.8,748.8" stroke="#8a8a8c" stroke-width="1.0" stroke-dasharray="3.1 0.6 2.2 0.7"/>
<path d="M195.3,753.1 L206.8,753.1" stroke="#8a8a8c" stroke-width="1.0" stroke-dasharray="2.6 0.7 1.6 0.6 3.2 0.8"/>
<path d="M208.6,753.1 L223.8,753.1" stroke="#8a8a8c" stroke-width="1.0" stroke-dasharray="3.1 0.6 2.2 0.7"/>
<path d="M195.3,757.4 L206.8,757.4" stroke="#8a8a8c" stroke-width="1.0" stroke-dasharray="2.6 0.7 1.6 0.6 3.2 0.8"/>
<path d="M208.6,757.4 L216,757.4" stroke="#8a8a8c" stroke-width="1.0" stroke-dasharray="3.1 0.6 2.2 0.7"/>
<path d="M195.3,761.9 L204.4,761.9" stroke="#8a8a8c" stroke-width="1.0" stroke-dasharray="2.6 0.7 1.6 0.6 3.2 0.8"/>
<path d="M195.3,766.7 L209,766.7" stroke="#8a8a8c" stroke-width="1.0" stroke-dasharray="2.6 0.7 1.6 0.6 3.2 0.8"/>
<path d="M195.3,771.0 L206,771.0" stroke="#8a8a8c" stroke-width="1.0" stroke-dasharray="2.6 0.7 1.6 0.6 3.2 0.8"/>
<path d="M195.0,775.4 L200.6,775.4" stroke="#8a8a8c" stroke-width="1.0" stroke-dasharray="2.6 0.7 1.6 0.6 3.2 0.8"/>
<defs><linearGradient id="pgb" x1="0" y1="0" x2="0" y2="1"><stop offset="0" stop-color="#f8d45a"/><stop offset="0.45" stop-color="#f2b41f"/><stop offset="1" stop-color="#c98812"/></linearGradient><linearGradient id="peb" x1="0" y1="0" x2="0" y2="1"><stop offset="0" stop-color="#f4a3a3"/><stop offset="1" stop-color="#d46a70"/></linearGradient><linearGradient id="pmb" x1="0" y1="0" x2="0" y2="1"><stop offset="0" stop-color="#d8e2ea"/><stop offset="1" stop-color="#8d9aa6"/></linearGradient></defs>
<g transform="translate(206.0,779.0) rotate(-43.73)">
<path d="M0,0 L7.6,-5.3 L7.6,5.3Z" fill="#e9c59a"/>
<path d="M0,0 L2.6,-1.80 L2.6,1.80Z" fill="#3a241a"/>
<rect x="7.6" y="-5.3" width="18.81" height="10.6" fill="url(#pgb)"/>
<rect x="26.41" y="-5.3" width="3.0" height="10.6" fill="url(#pmb)"/>
<path d="M29.41,-5.3 L32.81,-5.3 Q35.01,-5.3 35.01,-3.0999999999999996 L35.01,3.0999999999999996 Q35.01,5.3 32.81,5.3 L29.41,5.3Z" fill="url(#peb)"/>
</g>
</g>
<text x="220.78 236.15 251.48 274.02 294.68 318.68" y="443.4" font-size="40.5" stroke="#0a0a0a" stroke-width="1.0" stroke-linejoin="round">:tada:</text>
<text x="332.40 374.12 415.83 457.55" y="443.7" font-size="40" stroke="#0a0a0a" stroke-width="1.0" stroke-linejoin="round">初次提交</text>
<text x="231.68 244.22 265.55 287.12 309.98" y="553.6" font-size="40.5" stroke="#0a0a0a" stroke-width="1.0" stroke-linejoin="round">:bug:</text>
<text x="324.05 364.80" y="553.9" font-size="40" stroke="#0a0a0a" stroke-width="1.0" stroke-linejoin="round">修复</text>
<text x="406.50 431.82 453.57" y="553.6" font-size="39.5" stroke="#0a0a0a" stroke-width="1.0" stroke-linejoin="round">Bug</text>
<text x="234.18 247.35 263.15 285.80 306.50 327.15 352.65 369.18" y="664.6" font-size="40.5" stroke="#0a0a0a" stroke-width="1.0" stroke-linejoin="round">:rocket:</text>
<text x="384.60 425.15" y="664.9" font-size="40" stroke="#0a0a0a" stroke-width="1.0" stroke-linejoin="round">部署</text>
<text x="242.88 254.93 286.55 308.62 341.15 364.77" y="774.9" font-size="40.5" stroke="#0a0a0a" stroke-width="1.0" stroke-linejoin="round">:memo:</text>
<text x="380.10 422.80" y="775.1999999999999" font-size="40" stroke="#0a0a0a" stroke-width="1.0" stroke-linejoin="round">文档</text>
<text x="636.67 649.23 670.55 692.12 714.98" y="443.4" font-size="40.5" stroke="#0a0a0a" stroke-width="1.0" stroke-linejoin="round">:bug:</text>
<text x="729.05 768.20" y="443.7" font-size="40" stroke="#0a0a0a" stroke-width="1.0" stroke-linejoin="round">修复</text>
<text x="811.50 836.83 858.58" y="443.4" font-size="39.5" stroke="#0a0a0a" stroke-width="1.0" stroke-linejoin="round">Bug</text>
<text x="636.67 649.23 670.55 692.12 714.98" y="553.6" font-size="40.5" stroke="#0a0a0a" stroke-width="1.0" stroke-linejoin="round">:bug:</text>
<text x="729.05 768.20" y="553.9" font-size="40" stroke="#0a0a0a" stroke-width="1.0" stroke-linejoin="round">修复</text>
<text x="811.50 836.83 858.58" y="553.6" font-size="39.5" stroke="#0a0a0a" stroke-width="1.0" stroke-linejoin="round">Bug</text>
<text x="639.17 652.35 668.15 690.80 711.50 732.15 757.65 774.17" y="664.6" font-size="40.5" stroke="#0a0a0a" stroke-width="1.0" stroke-linejoin="round">:rocket:</text>
<text x="789.60 830.55" y="664.9" font-size="40" stroke="#0a0a0a" stroke-width="1.0" stroke-linejoin="round">部署</text>
<text x="647.48 659.53 691.15 713.23 745.75 769.38" y="775.2" font-size="40.5" stroke="#0a0a0a" stroke-width="1.0" stroke-linejoin="round">:memo:</text>
<text x="784.50 827.20" y="775.5" font-size="40" stroke="#0a0a0a" stroke-width="1.0" stroke-linejoin="round">文档</text>
<text x="970.85" y="287.2" font-size="40" stroke="#0a0a0a" stroke-width="1.0" stroke-linejoin="round">用</text>
<text x="1011.45 1033.03 1066.35 1089.97 1101.40" y="287.8" font-size="40.5" stroke="#0a0a0a" stroke-width="1.0" stroke-linejoin="round">emoji</text>
<text x="1113.35" y="287.9" font-size="40" stroke="#0a0a0a" stroke-width="1.0" stroke-linejoin="round">为</text>
<text x="927.90 949.35 970.92 1003.52 1037.20 1050.85" y="339.8" font-size="40.5" stroke="#0a0a0a" stroke-width="1.0" stroke-linejoin="round">commit</text>
<text x="1066.50 1110.10 1153.70" y="340.2" font-size="40" stroke="#0a0a0a" stroke-width="1.0" stroke-linejoin="round">打标签</text>
<path d="M1011.2,366.9 C1000.7,409.9 959.9,422.4 921.6,427.7" fill="none" stroke="#779b70" stroke-width="5.7" stroke-linecap="round" stroke-linejoin="round"/>
<path d="M938,413 L921.1,427.8 L942.7,439" fill="none" stroke="#779b70" stroke-width="6.3" stroke-linecap="round" stroke-linejoin="round"/>
<path d="M1032.2,370.8 C1031.2,441.2 984.2,515.1 915.2,534.3" fill="none" stroke="#779b70" stroke-width="5.7" stroke-linecap="round" stroke-linejoin="round"/>
<path d="M928.5,517.3 L914.6,534.5 L937.6,541.7" fill="none" stroke="#779b70" stroke-width="6.3" stroke-linecap="round" stroke-linejoin="round"/>
<path d="M1052.9,372.0 C1046.6,465.4 998.9,600.7 908.9,645.3" fill="none" stroke="#779b70" stroke-width="5.7" stroke-linecap="round" stroke-linejoin="round"/>
<path d="M920,627.3 L908.3,645.6 L932.4,649.5" fill="none" stroke="#779b70" stroke-width="6.3" stroke-linecap="round" stroke-linejoin="round"/>
<path d="M1073.4,373.9 C1074.3,498.2 1041.8,704.1 913.2,760.4" fill="none" stroke="#779b70" stroke-width="5.7" stroke-linecap="round" stroke-linejoin="round"/>
<path d="M925.4,742.4 L912.6,760.7 L936.3,765.5" fill="none" stroke="#779b70" stroke-width="6.3" stroke-linecap="round" stroke-linejoin="round"/>
</g>
</svg>
</body></html>
